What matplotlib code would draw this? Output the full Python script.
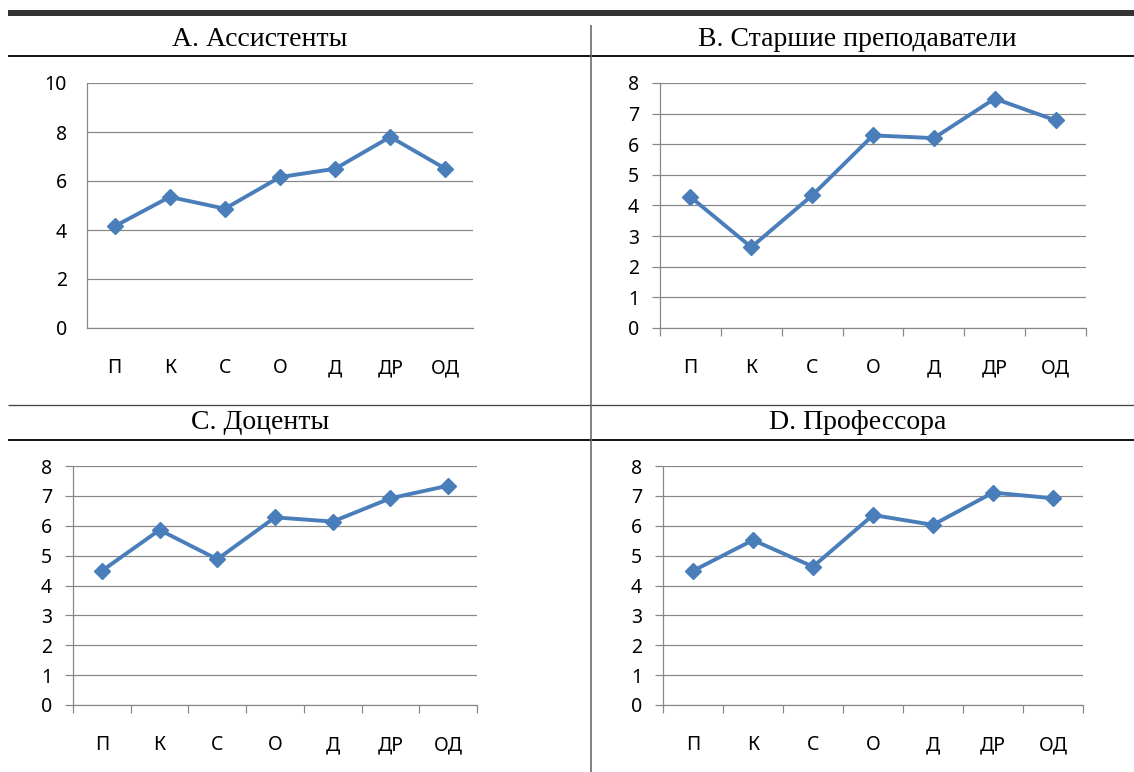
import matplotlib
matplotlib.use("Agg")
import matplotlib.pyplot as plt
from matplotlib.lines import Line2D

categories = ["П", "К", "С", "О", "Д", "ДР", "ОД"]

titles = ["А. Ассистенты", "В. Старшие преподаватели", "С. Доценты", "D. Профессора"]

assistants = [4.15, 5.35, 4.87, 6.16, 6.5, 7.8, 6.5]
senior_lecturers = [4.28, 2.64, 4.33, 6.29, 6.2, 7.49, 6.78]
docents = [4.49, 5.86, 4.88, 6.28, 6.14, 6.92, 7.34]
professors = [4.49, 5.52, 4.63, 6.36, 6.03, 7.11, 6.92]

W, H = 1134, 772
DPI = 100
PX = 72.0 / DPI  # points per pixel

LINE_COLOR = "#4A7EBB"
GRID_COLOR = "#878787"
tick_font = ["Noto Sans", "DejaVu Sans"]
title_font = ["Liberation Serif", "DejaVu Serif"]

fig = plt.figure(figsize=(W / DPI, H / DPI), dpi=DPI)


def px_axes(x0, y0, x1, y1):
    # pixel box (top-left origin) -> figure axes
    return fig.add_axes([x0 / W, 1 - y1 / H, (x1 - x0) / W, (y1 - y0) / H])


def fig_line(x0, y0, x1, y1, color, lw_px):
    fig.add_artist(Line2D([x0 / W, x1 / W], [1 - y0 / H, 1 - y1 / H],
                          transform=fig.transFigure, color=color,
                          linewidth=lw_px * PX, solid_capstyle="butt"))


# panel boxes: (x0, y0, x1, y1) of plot area, ymax, y step, draw ticks
panels = [
    ((87, 83, 473, 328), 10, 2, False, assistants),
    ((660, 83, 1086, 328), 8, 1, True, senior_lecturers),
    ((73, 466, 477, 705), 8, 1, True, docents),
    ((663, 466, 1083, 705), 8, 1, True, professors),
]

for (box, ymax, step, ticks, values) in panels:
    ax = px_axes(*box)
    xs = list(range(len(categories)))
    ax.plot(xs, values, color=LINE_COLOR, linewidth=2.8, marker="D",
            markersize=7.8, markerfacecolor=LINE_COLOR,
            markeredgecolor=LINE_COLOR, zorder=3, clip_on=False)
    ax.set_xlim(-0.5, len(categories) - 0.5)
    ax.set_ylim(0, ymax)
    ax.set_yticks(list(range(0, ymax + 1, step)))
    ax.yaxis.grid(True, color=GRID_COLOR, linewidth=1.2 * PX)
    ax.set_axisbelow(True)
    for s in ["top", "right"]:
        ax.spines[s].set_visible(False)
    for s in ["left", "bottom"]:
        ax.spines[s].set_color(GRID_COLOR)
        ax.spines[s].set_linewidth(1.2 * PX)

    ax.set_xticks(xs)
    ax.set_xticklabels(categories, fontfamily=tick_font, fontsize=14)
    ax.set_xticks([x - 0.5 for x in range(len(categories) + 1)], minor=True)
    tick_len = 8 * PX if ticks else 0
    ax.tick_params(axis="x", which="major", length=0, pad=30 * PX)
    ax.tick_params(axis="x", which="minor", length=tick_len,
                   color=GRID_COLOR, width=1.2 * PX)
    ax.tick_params(axis="y", length=tick_len, color=GRID_COLOR,
                   width=1.2 * PX, pad=(13 if ticks else 20) * PX)
    for lab in ax.get_yticklabels():
        lab.set_fontfamily(tick_font)
        lab.set_fontsize(14)

# titles
title_pos = [(260, 40), (857, 40), (260, 423), (858, 423)]
for t, (tx, ty) in zip(titles, title_pos):
    fig.text(tx / W, 1 - ty / H, t, ha="center", va="center",
             fontfamily=title_font, fontsize=20)

# frame lines of the table
fig_line(8, 13, W, 13, "#333333", 6)
fig_line(8, 56, W, 56, "#000000", 1.8)
fig_line(8, 405, W, 405, "#444444", 1.3)
fig_line(8, 440, W, 440, "#000000", 1.8)
fig_line(591, 25, 591, H, "#666666", 1.6)

fig.savefig("out.png", dpi=DPI)
